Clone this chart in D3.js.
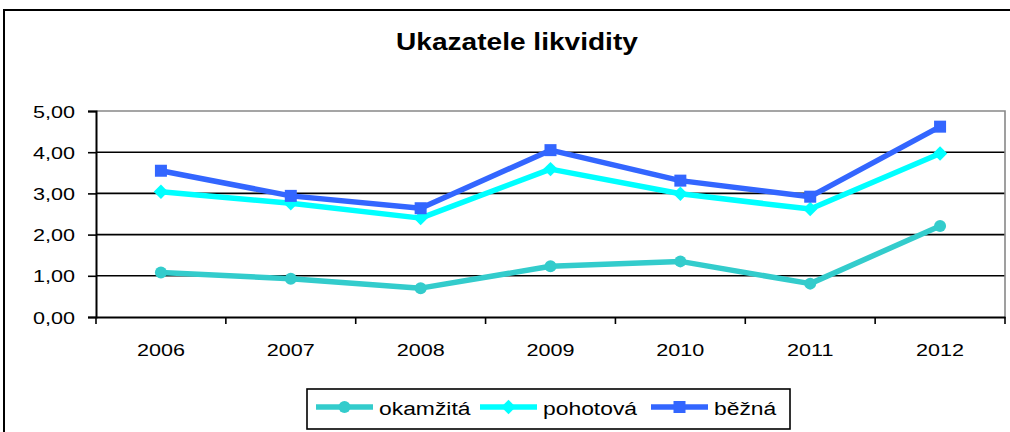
<!DOCTYPE html>
<html><head><meta charset="utf-8">
<script src="https://cdn.jsdelivr.net/npm/d3@7"></script>
<style>html,body{margin:0;padding:0;background:#fff;}svg{display:block;font-family:"Liberation Sans",Arial,sans-serif;}</style>
</head><body>
<svg id="c" width="1010" height="432"></svg>
<script>
const title = "Ukazatele likvidity";
const years = ["2006","2007","2008","2009","2010","2011","2012"];
const yTicks = [0,1,2,3,4,5];
const seriesNames = ["okamžitá","pohotová","běžná"];
const seriesColors = ["#33CCCC","#00FFFF","#3366FF"];
const seriesMarkers = ["circle","diamond","square"];
const okamzita = [1.08,0.93,0.70,1.23,1.35,0.81,2.21];
const pohotova = [3.04,2.76,2.40,3.59,2.99,2.62,3.97];
const bezna    = [3.55,2.94,2.64,4.05,3.31,2.92,4.62];
const seriesValues = [okamzita,pohotova,bezna];

const svg = d3.select("#c");
const STR = 1.27;
function stretch(sel, k){
  sel.each(function(){
    const l = this.getComputedTextLength();
    this.setAttribute("textLength", l*k);
    this.setAttribute("lengthAdjust","spacingAndGlyphs");
  });
}

// outer frame
svg.append("rect").attr("x",4).attr("y",10).attr("width",1020).attr("height",440)
  .attr("fill","none").attr("stroke","#000").attr("stroke-width",2);

const x = d3.scaleBand().domain(years).range([96,1005]).padding(0);
const y = d3.scaleLinear().domain([0,5]).range([317,111]);

// title
svg.append("text").attr("x",517).attr("y",50).attr("text-anchor","middle")
  .attr("font-size",23).attr("font-weight","bold").text(title).call(stretch,1.22);

// gridlines
svg.append("g").selectAll("line").data(yTicks.filter(d=>d>0 && d<5)).join("line")
  .attr("x1",96).attr("x2",1005).attr("y1",d=>y(d)).attr("y2",d=>y(d))
  .attr("stroke","#000").attr("stroke-width",1.6);
// plot border top/right gray
svg.append("path").attr("d",`M96,${y(5)}H1005V${y(0)}`).attr("fill","none")
  .attr("stroke","#888").attr("stroke-width",1.6);

// y axis
const yAxis = d3.axisLeft(y).tickValues(yTicks).tickSize(8).tickPadding(13)
  .tickFormat(d=>d3.format(".2f")(d).replace(".",","));
const gy = svg.append("g").attr("transform","translate(96,0)").call(yAxis);
gy.select(".domain").attr("stroke","#000").attr("stroke-width",2);
gy.selectAll(".tick line").attr("stroke","#000").attr("stroke-width",1.6);
gy.selectAll(".tick text").attr("font-size",17).attr("font-family","Liberation Sans, Arial, sans-serif")
  .attr("fill","#000").attr("dy","0.36em").call(stretch,STR);

// x axis
const xAxis = d3.axisBottom(x).tickSize(0).tickPadding(27);
const gx = svg.append("g").attr("transform",`translate(0,${y(0)})`).call(xAxis);
gx.select(".domain").attr("stroke","#000").attr("stroke-width",2);
gx.selectAll(".tick text").attr("font-size",17).attr("font-family","Liberation Sans, Arial, sans-serif")
  .attr("fill","#000").call(stretch,STR);
// band boundary ticks
const bounds = years.map(d=>x(d)).concat([x(years[years.length-1])+x.bandwidth()]);
gx.selectAll(".btick").data(bounds).join("line").attr("class","btick")
  .attr("x1",d=>d).attr("x2",d=>d).attr("y1",0).attr("y2",7)
  .attr("stroke","#000").attr("stroke-width",1.6);

function marker(g, type, color, cx, cy, s){
  if(type==="circle") g.append("circle").attr("cx",cx).attr("cy",cy).attr("r",s*0.5).attr("fill",color);
  else if(type==="square") g.append("rect").attr("x",cx-s/2).attr("y",cy-s/2).attr("width",s).attr("height",s).attr("fill",color);
  else g.append("path").attr("d",`M${cx},${cy-s*0.6}L${cx+s*0.6},${cy}L${cx},${cy+s*0.6}L${cx-s*0.6},${cy}Z`).attr("fill",color);
}

const line = d3.line().x((d,i)=>x(years[i])+x.bandwidth()/2).y(d=>y(d));
seriesValues.forEach((vals,si)=>{
  const g = svg.append("g");
  g.append("path").attr("d",line(vals)).attr("fill","none").attr("stroke",seriesColors[si])
    .attr("stroke-width",5.5).attr("stroke-linejoin","round");
  vals.forEach((v,i)=>marker(g,seriesMarkers[si],seriesColors[si],x(years[i])+x.bandwidth()/2,y(v),12));
});

// legend
svg.append("rect").attr("x",307).attr("y",389).attr("width",483).attr("height",40)
  .attr("fill","#fff").attr("stroke","#000").attr("stroke-width",1.6);
const legX = [316,480,651];
seriesNames.forEach((n,i)=>{
  const g = svg.append("g");
  g.append("line").attr("x1",legX[i]).attr("x2",legX[i]+57).attr("y1",407).attr("y2",407)
    .attr("stroke",seriesColors[i]).attr("stroke-width",5.5);
  marker(g,seriesMarkers[i],seriesColors[i],legX[i]+28.5,407,12);
  g.append("text").attr("x",legX[i]+63).attr("y",415).attr("font-size",18).attr("fill","#000")
    .text(n).call(stretch,STR);
});
</script>
</body></html>
